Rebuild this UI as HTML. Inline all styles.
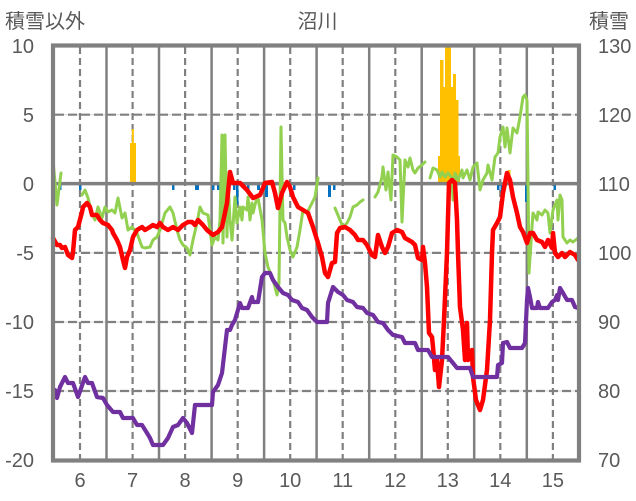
<!DOCTYPE html>
<html><head><meta charset="utf-8"><style>
html,body{margin:0;padding:0;background:#fff;}
svg{display:block;}
text{font-family:"Liberation Sans","Noto Sans CJK JP",sans-serif;fill:#595959;font-size:20px;}
</style></head><body>
<svg width="636" height="501" viewBox="0 0 636 501" xmlns="http://www.w3.org/2000/svg">
<rect x="0" y="0" width="636" height="501" fill="#fff"/>
<g stroke="#D9D9D9" stroke-width="1">
<line x1="55" y1="114.7" x2="577" y2="114.7"/>
<line x1="55" y1="252.9" x2="577" y2="252.9"/>
<line x1="55" y1="322" x2="577" y2="322"/>
<line x1="55" y1="391" x2="577" y2="391"/>
</g>
<g stroke="#808080" stroke-width="2.2" stroke-dasharray="9,4">
<line x1="55" y1="114.7" x2="577" y2="114.7"/>
<line x1="55" y1="252.9" x2="577" y2="252.9"/>
<line x1="55" y1="322" x2="577" y2="322"/>
<line x1="55" y1="391" x2="577" y2="391"/>
</g>
<g stroke="#808080" stroke-width="2.2" stroke-dasharray="7,4">
<line x1="80" y1="47" x2="80" y2="459"/>
<line x1="132.6" y1="47" x2="132.6" y2="459"/>
<line x1="185.1" y1="47" x2="185.1" y2="459"/>
<line x1="237.7" y1="47" x2="237.7" y2="459"/>
<line x1="290.2" y1="47" x2="290.2" y2="459"/>
<line x1="342.7" y1="47" x2="342.7" y2="459"/>
<line x1="395.3" y1="47" x2="395.3" y2="459"/>
<line x1="447.8" y1="47" x2="447.8" y2="459"/>
<line x1="500.3" y1="47" x2="500.3" y2="459"/>
<line x1="552.9" y1="47" x2="552.9" y2="459"/>
</g>
<g stroke="#808080" stroke-width="2.5">
<line x1="106.5" y1="47" x2="106.5" y2="459"/>
<line x1="159" y1="47" x2="159" y2="459"/>
<line x1="211.6" y1="47" x2="211.6" y2="459"/>
<line x1="264.1" y1="47" x2="264.1" y2="459"/>
<line x1="316.6" y1="47" x2="316.6" y2="459"/>
<line x1="369.2" y1="47" x2="369.2" y2="459"/>
<line x1="421.7" y1="47" x2="421.7" y2="459"/>
<line x1="474.2" y1="47" x2="474.2" y2="459"/>
<line x1="526.8" y1="47" x2="526.8" y2="459"/>
</g>
<g fill="#FFC000">
<rect x="130" y="143" width="6" height="41"/>
<rect x="131.8" y="129" width="2" height="15"/>
<rect x="438" y="156" width="22" height="28"/>
<rect x="440" y="60" width="3.5" height="97"/>
<rect x="443" y="87" width="2.5" height="70"/>
<rect x="445" y="46" width="6" height="111"/>
<rect x="451" y="87" width="2.5" height="70"/>
<rect x="453" y="74" width="3" height="83"/>
<rect x="456" y="100" width="2.5" height="57"/>
<rect x="508" y="170" width="2.5" height="14"/>
</g>
<g fill="#0070C0">
<rect x="59" y="184" width="2.5" height="6"/>
<rect x="79" y="184" width="2.5" height="6"/>
<rect x="172" y="184" width="2.5" height="6"/>
<rect x="195" y="184" width="4" height="6"/>
<rect x="212" y="184" width="2.5" height="6"/>
<rect x="217" y="184" width="2.5" height="6"/>
<rect x="233" y="184" width="2.5" height="6"/>
<rect x="236" y="184" width="2.5" height="21"/>
<rect x="247" y="184" width="2.5" height="6"/>
<rect x="257" y="184" width="3" height="6"/>
<rect x="265" y="184" width="3" height="13"/>
<rect x="293" y="184" width="2.5" height="6"/>
<rect x="328" y="184" width="3" height="13"/>
<rect x="333" y="184" width="2.5" height="6"/>
<rect x="497" y="184" width="2.5" height="6"/>
<rect x="500.5" y="184" width="2.5" height="13"/>
<rect x="525" y="184" width="2.5" height="18"/>
<rect x="553.5" y="184" width="2.5" height="6"/>
</g>
<line x1="55" y1="183.6" x2="577" y2="183.6" stroke="#808080" stroke-width="3.5"/>
<g fill="none" stroke="#92D050" stroke-width="3" stroke-linejoin="round" stroke-linecap="round">
<polyline points="53,160 57,205 61,173"/>
<polyline points="82,195 85,190 88,198 92,213 95,220 98,207 102,218 105,207 108,212 112,210 115,213 118,198 122,218 125,213 128,230 132,227 137,233 142,247 145,248 150,247 153,240 157,237 160,230 165,213 170,207 173,213 177,230 180,240 183,245 187,248 190,255 193,240 197,223 200,207 203,213 208,215 210,230 212,245 215,237 218,240 220,220 222,135 223,243 225,135 227,237 228,180 230,220 232,240 235,197 237,223 240,207 242,220 243,207 247,210 248,197 250,220 252,203 253,213 257,197 258,198 262,220 265,253 268,267 272,277 275,287 277,295 279,283 281,127 283,220 285,223 287,237 290,250 293,257 297,247 300,230 303,210 307,213 310,207 315,197 318,178"/>
<polyline points="335,208 340,220 343,227 347,223 350,217 353,207 357,205 360,202 363,200"/>
<polyline points="375,197 378,192 382,177 383,167 386,190 388,172 391,200 393,155 397,157 400,160 402,222 405,160 408,167 410,158 413,170 415,173 418,168 422,165 425,162"/>
<polyline points="430,178 433,168 437,170 440,177 442,172 445,177 448,173 452,178 453,200 455,173 458,180 462,170 463,178 467,170 470,180 473,167 477,163 480,190 483,180 487,173 488,165 492,180 495,157 498,153 500,137 503,127 505,147 507,128 510,153 513,128 517,133 520,117 523,97 525,95 527,100 528,180 529,273 532,227 533,213 537,220 538,212 542,215 545,210 548,213 550,233 553,210 557,200 558,220 560,195 562,200 563,237 567,243 570,240 573,242 578,238"/>
</g>
<polyline fill="none" stroke="#FF0000" stroke-width="4.5" stroke-linejoin="round" stroke-linecap="round" points="53,238 57,245 60,245 62,248 65,247 68,255 72,258 73,252 75,230 78,227 82,212 83,207 87,203 90,207 92,215 97,215 100,220 103,223 108,225 112,230 113,233 117,240 120,247 123,260 125,268 127,257 130,250 133,237 137,230 142,227 145,230 150,227 153,225 157,227 160,223 163,227 168,230 173,227 178,230 183,225 188,222 192,222 195,225 198,220 203,225 207,230 213,235 218,232 222,227 227,203 230,172 233,183 240,183 247,190 253,198 260,195 265,183 272,182 275,193 278,208 282,193 287,182 290,187 293,197 298,207 303,210 308,213 313,227 318,243 322,257 325,273 328,277 332,263 335,262 337,233 340,228 345,227 350,230 355,235 358,240 363,240 367,245 372,255 375,257 378,235 382,247 385,253 388,247 392,233 397,230 402,232 405,238 412,242 415,245 418,258 422,260 423,247 425,263 427,287 429,333 432,337 433,347 435,370 437,360 439,387 442,360 444,320 447,253 449,183 452,180 455,183 457,220 458,253 460,307 463,330 465,360 467,323 468,360 472,350 473,377 476,400 480,410 483,400 487,370 490,320 492,253 493,230 497,223 500,217 503,193 507,173 510,180 513,197 517,213 520,227 523,232 527,243 530,233 533,233 537,240 542,242 545,247 548,240 552,248 553,233 555,253 558,257 562,253 565,257 570,252 575,255 578,260"/>
<polyline fill="none" stroke="#7030A0" stroke-width="4.2" stroke-linejoin="round" stroke-linecap="round" points="55,390 57,398 60,387 65,377 68,383 73,383 78,397 85,377 88,383 92,383 97,397 103,398 107,405 113,412 120,412 123,418 133,418 137,425 142,425 147,433 150,438 153,445 163,445 168,438 173,427 178,425 183,418 187,423 192,433 195,405 212,405 213,392 218,385 222,373 227,330 230,330 232,325 235,320 240,303 242,308 248,308 252,297 253,302 258,302 262,277 265,273 270,273 273,280 278,287 283,293 288,295 292,300 298,302 302,308 307,310 312,317 317,322 327,322 328,303 333,287 338,292 343,295 347,300 353,302 357,307 363,308 367,313 373,315 378,322 383,323 388,330 393,335 402,337 405,343 415,343 418,350 428,350 432,357 448,357 453,363 457,368 470,368 473,377 497,377 498,365 502,363 503,343 507,342 510,348 522,348 525,343 527,300 528,288 530,297 532,308 537,308 538,302 540,308 548,308 552,302 555,300 557,295 558,300 560,288 563,293 567,300 572,300 575,307 578,308"/>
<rect x="53" y="45.5" width="526" height="415" fill="none" stroke="#808080" stroke-width="4.2"/>
<text x="5" y="28">積雪以外</text>
<text x="317.5" y="28" text-anchor="middle">沼川</text>
<text x="589" y="28">積雪</text>
<g text-anchor="end">
<text x="34" y="53">10</text>
<text x="34" y="122">5</text>
<text x="34" y="191">0</text>
<text x="34" y="260">-5</text>
<text x="34" y="329">-10</text>
<text x="34" y="398">-15</text>
<text x="34" y="467">-20</text>
</g>
<g>
<text x="598" y="53">130</text>
<text x="598" y="122">120</text>
<text x="598" y="191">110</text>
<text x="598" y="260">100</text>
<text x="598" y="329">90</text>
<text x="598" y="398">80</text>
<text x="598" y="467">70</text>
</g>
<g text-anchor="middle">
<text x="80" y="487">6</text>
<text x="132.6" y="487">7</text>
<text x="185.1" y="487">8</text>
<text x="237.7" y="487">9</text>
<text x="290.2" y="487">10</text>
<text x="342.7" y="487">11</text>
<text x="395.3" y="487">12</text>
<text x="447.8" y="487">13</text>
<text x="500.3" y="487">14</text>
<text x="552.9" y="487">15</text>
</g>
</svg>
</body></html>
